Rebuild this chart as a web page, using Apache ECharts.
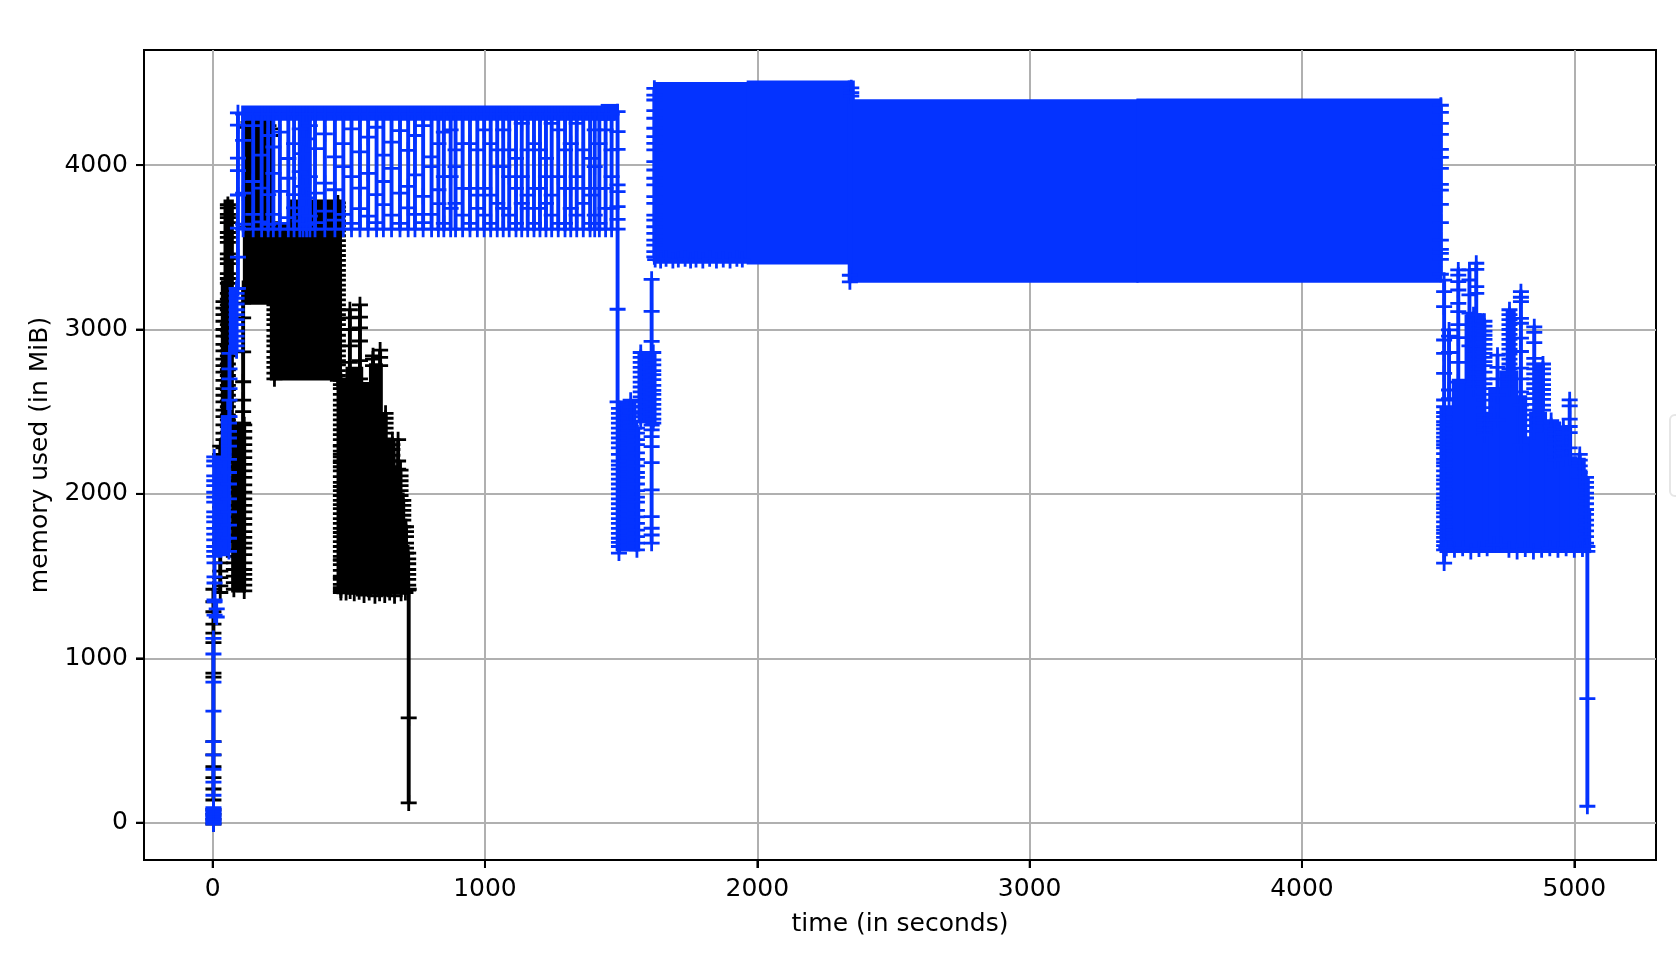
<!DOCTYPE html>
<html>
<head>
<meta charset="utf-8">
<style>html,body{margin:0;padding:0;background:#fff}#c{width:1676px;height:962px}</style>
<script src="https://cdn.jsdelivr.net/npm/echarts@6/dist/echarts.min.js"></script>
</head>
<body>
<div id="c"></div>
<script>
const xTicks = [0, 1000, 2000, 3000, 4000, 5000];
const yTicks = [0, 1000, 2000, 3000, 4000];
const xLabel = 'time (in seconds)';
const yLabel = 'memory used (in MiB)';
const xMin = -252, xMax = 5300, yMin = -227, yMax = 4700;

// solid regions where samples are too dense to separate: time span and memory span
const blackBandStart = [40, 30, 68, 111, 210, 284, 455, 488, 549, 574, 621, 638, 668, 691, 702, 710];
const blackBandEnd   = [78, 60, 122, 284, 475, 475, 492, 553, 578, 625, 642, 672, 695, 706, 714, 722];
const blackBandLow   = [2300, 2000, 1400, 3150, 2690, 3640, 1390, 1390, 1390, 1390, 1390, 1390, 1390, 1390, 1390, 1390];
const blackBandHigh  = [3790, 3300, 2430, 3650, 3650, 3790, 2693, 2774, 2680, 2795, 2490, 2330, 2145, 1960, 1800, 1640];

const blueBandStart = [6, 30, 50, 60, 105, 1425, 1620, 1961, 2332, 2350, 3392, 1480, 1549, 1560,
  4505, 4550, 4597, 4662, 4684, 4724, 4748, 4789, 4819, 4834, 4850, 4892, 4944, 4984, 5034, 5049];
const blueBandEnd = [62, 70, 72, 92, 1478, 1490, 1969, 2340, 2358, 3400, 4515, 1556, 1570, 1630,
  4558, 4605, 4670, 4692, 4732, 4795, 4785, 4827, 4842, 4900, 4887, 4952, 4992, 5042, 5057, 5062];
const blueBandLow = [1620, 2220, 2510, 2855, 4270, 4270, 3400, 3395, 3285, 3285, 3285, 1650, 1650, 2430,
  1640, 1640, 1640, 1640, 1640, 1640, 2700, 1640, 1640, 1640, 2400, 1640, 1640, 1640, 1640, 1640];
const blueBandHigh = [2230, 2470, 2570, 3250, 4362, 4372, 4505, 4515, 4515, 4400, 4405, 2565, 2400, 2865,
  2530, 2700, 3090, 2500, 2650, 2750, 3120, 2600, 2350, 2500, 2790, 2440, 2400, 2220, 2100, 1900];

// saw-tooth strokes between about 3610 and 4310 MiB
const stripeTimes = [112, 149, 180, 204, 223, 247, 278, 299, 320, 332, 345, 357, 376, 412, 449, 480, 510, 541, 571, 602,
  627, 657, 688, 718, 743, 773, 804, 829, 849, 874, 892, 918, 945, 972, 997, 1021, 1045, 1067, 1089, 1114,
  1135, 1157, 1180, 1202, 1224, 1245, 1269, 1294, 1315, 1337, 1361, 1386, 1403, 1420, 1443, 1465];
const stripeFloor = [3610, 3610, 3610, 3610, 3610, 3610, 3610, 3610, 3610, 3610, 3610, 3610, 3610, 3610, 3610, 3610, 3610, 3610, 3610, 3610,
  3610, 3610, 3610, 3610, 3610, 3610, 3610, 3610, 3610, 3610, 3610, 3610, 3610, 3610, 3610, 3610, 3610, 3610, 3610, 3610,
  3610, 3610, 3610, 3610, 3610, 3610, 3610, 3610, 3610, 3610, 3610, 3610, 3610, 3610, 3610, 3610];
const stripeMidA = [3640, 3700, 3655, 3640, 3700, 3645, 3680, 3740, 3660, 3700, 3640, 3690, 3650, 3720, 3665, 3700, 3645, 3735, 3690, 3650,
  3760, 3695, 3645, 3740, 3700, 3650, 3700, 3765, 3645, 3737, 3767, 3696, 3645, 3737, 3696, 3645, 3767, 3737, 3696, 3645,
  3767, 3737, 3645, 3737, 3767, 3696, 3645, 3645, 3737, 3696, 3767, 3645, 3696, 3645, 3737, 3737];
const stripeMidB = [3830, 3900, 3860, 3820, 3950, 3840, 3920, 3820, 3960, 3870, 3800, 3930, 3830, 3890, 3850, 3990, 3930, 3860, 3950, 3820,
  3900, 3980, 3830, 3870, 3940, 3810, 3990, 3850, 3930, 3930, 3990, 3858, 3858, 3817, 3858, 3817, 3990, 3990, 3930, 3858,
  3930, 3817, 3858, 3858, 3930, 3817, 3930, 3858, 3858, 3930, 3858, 3817, 3990, 3858, 3858, 3930];
const stripeMidC = [4150, 4240, 4060, 4180, 4110, 4200, 4040, 4130, 4220, 4070, 4160, 4240, 4100, 4190, 4050, 4130, 4220, 4080, 4170, 4230,
  4060, 4140, 4210, 4090, 4180, 4240, 4050, 4130, 4200, 4214, 4092, 4131, 4131, 4092, 4214, 4131, 4092, 4214, 4092, 4041,
  4254, 4092, 4131, 4092, 4041, 4254, 4214, 4092, 4131, 4254, 4092, 4041, 4214, 4131, 4214, 4092];
const stripeCeil = [4310, 4310, 4310, 4310, 4310, 4310, 4310, 4310, 4310, 4310, 4310, 4310, 4310, 4310, 4310, 4310, 4310, 4310, 4310, 4310,
  4310, 4310, 4310, 4310, 4310, 4310, 4310, 4310, 4310, 4310, 4310, 4310, 4310, 4310, 4310, 4310, 4310, 4310, 4310, 4310,
  4310, 4310, 4310, 4310, 4310, 4310, 4310, 4310, 4310, 4310, 4310, 4310, 4310, 4310, 4310, 4310];

// vertical strokes of the black run: time, then the samples along the stroke
const blackColumnTimes = [3, 3, 28, 56, 40, 78, 116, 112, 125, 132, 140, 158, 165, 172, 190, 199, 205, 215, 222, 227, 460, 471, 471, 504, 541, 589, 615,
  635, 660, 681, 690, 700, 710, 718, 720];
const blackColumnSamples = [
  [138, 205, 274, 341, 412, 493, 885, 910, 1095, 1153, 1208, 1283, 1344, 1420],
  [-8, 20, 50, 80],
  [1400, 1440, 1490, 1530, 1580, 1640, 1700, 1760, 1800, 1860, 1920, 1980, 2050, 2110, 2180, 2240, 2290],
  [2300, 2335, 2375, 2410, 2450, 2480, 2530, 2565, 2600, 2635, 2660, 2720, 2755, 2790, 2840, 2870, 2900, 2960, 2995, 3030, 3090, 3120, 3150, 3185, 3220, 3280, 3310, 3340, 3400, 3430, 3460, 3530, 3560, 3590, 3650, 3680, 3700, 3740, 3760],
  [2000, 2050, 2100, 2150, 2190, 2240, 2280, 2330, 2370, 2420, 2470, 2510, 2560, 2600, 2640, 2690, 2740, 2780, 2820, 2870, 2910, 2960, 3000, 3050, 3090, 3130, 3170],
  [1420, 1460, 1500, 1540, 1580, 1620, 1660, 1710, 1750, 1790, 1820, 1860, 1900, 1930, 1970, 2010, 2040, 2080, 2130, 2165, 2200, 2240, 2280, 2320, 2370, 2400, 2430],
  [1410, 1445, 1480, 1510, 1540, 1580, 1630, 1670, 1700, 1735, 1770, 1815, 1850, 1890, 1930, 1970, 2010, 2055, 2100, 2140, 2180, 2220, 2260, 2300, 2340, 2380, 2420],
  [2430, 2500, 2570, 2682, 2864, 3070, 3160, 3250],
  [3620, 4230], [3620, 4260], [3640, 4250], [3620, 4255], [3650, 4260], [3620, 4230], [3640, 4255], [3640, 4265], [3620, 4240], [3650, 4220], [3620, 4180],
  [2700, 2735, 2770, 2800, 2830, 2865, 2900, 2930, 2960, 2995, 3030, 3060, 3090, 3120, 3150, 3180],
  [2690, 2720, 2750, 2785, 2810, 2840, 2870, 2900, 2930, 2965, 3000, 3030, 3060, 3090, 3120, 3150, 3180, 3210, 3240, 3270, 3300, 3330, 3360, 3390, 3420, 3450, 3480, 3510, 3540, 3570, 3600, 3630, 3660, 3690, 3720, 3745, 3770],
  [1400, 1430, 1450, 1480, 1500, 1535, 1570, 1595, 1620, 1650, 1680, 1710, 1740, 1765, 1790, 1820, 1850, 1880, 1910, 1935, 1960, 1990, 2020, 2045, 2070, 2105, 2140, 2165, 2190, 2225, 2260, 2295, 2330, 2360, 2390, 2420, 2450, 2480, 2510, 2540, 2570, 2605, 2640, 2665, 2690],
  [1415, 1490, 1600, 2200, 2240, 2290],
  [2700, 2800, 2900, 3000, 3070, 3120],
  [2700, 2810, 2930, 3010, 3075, 3150],
  [2780, 2820, 2840],
  [2780, 2830, 2875],
  [2490, 2460, 2430, 2400, 2370, 2335, 2300, 2270],
  [2330, 2300, 2270, 2235, 2200, 2165, 2130],
  [2150, 2200, 2330],
  [2145, 2110, 2080, 2050, 2020, 1990, 1960],
  [1960, 1930, 1900, 1870, 1840, 1800],
  [1800, 1770, 1740, 1700, 1670, 1640],
  [1640, 1605, 1575, 1540, 1510, 1480, 1445, 1415],
  [120, 637, 1420]
];
const blackFootTimes = [490, 505, 520, 538, 556, 575, 596, 613, 632, 650, 668, 692, 708];
const blackFootValues = [1400, 1410, 1395, 1405, 1385, 1400, 1380, 1395, 1385, 1400, 1380, 1395, 1400];

// vertical strokes of the blue run
const blueColumnTimes = [3, 3, 15, 7, 6, 60, 62, 88, 93, 1487, 1492, 1622, 1612, 1535, 1558, 1572, 1618, 2345, 2340, 4510, 4522, 4540, 4574, 4615, 4630, 4640, 4670, 4718, 4762, 4804, 4853, 4885, 4915, 4930, 4960, 4983, 5020, 5043, 5048];
const blueColumnSamples = [
  [167, 247, 325, 412, 493, 679, 855, 1026, 1121],
  [-8, 2, 12, 22, 32, 42, 52, 62, 72, 82, 92],
  [1251, 1300],
  [1263, 1343, 1355, 1458, 1495, 1580],
  [1620, 1650, 1680, 1720, 1755, 1790, 1830, 1860, 1890, 1950, 1980, 2010, 2050, 2080, 2110, 2170, 2200, 2225],
  [1650, 1730, 1810, 1890, 1970, 2060, 2130, 2210, 2290, 2340, 2380, 2430, 2470],
  [2470, 2570, 2640, 2700, 2760, 2855],
  [2870, 2900, 2930, 2960, 2990, 3030, 3060, 3090, 3120, 3155, 3190, 3220, 3250],
  [3250, 3440, 3617, 3818, 3966, 4042, 4243, 4318],
  [4325, 4203, 4096, 3879, 3838, 3747, 3670, 3610, 3123, 2560],
  [2520, 2490, 2460, 2430, 2400, 2370, 2340, 2310, 2280, 2240, 2200, 2175, 2150, 2120, 2090, 2060, 2030, 2000, 1970, 1940, 1910, 1880, 1850, 1820, 1790, 1760, 1730, 1705, 1680, 1640],
  [3442, 3473, 3513, 3544, 3584, 3625, 3665, 3696, 3767, 3808, 3879, 3920, 3970, 4021, 4092, 4132, 4173, 4224, 4285, 4331, 4396, 4426, 4467],
  [1700, 1750, 1791, 1862, 2024, 2190, 2287, 2348, 2389, 2419, 2928, 3110, 3305],
  [2570, 2530, 2490, 2440, 2410],
  [2400, 2370, 2330, 2300, 2250, 2210, 2170, 2130, 2100, 2060, 2020, 1980, 1950, 1900, 1860, 1820, 1780, 1740, 1700, 1660],
  [2860, 2830, 2800, 2770, 2740, 2710, 2680, 2650, 2620, 2590, 2560, 2530, 2500, 2470, 2440],
  [2860, 2815, 2785, 2750, 2725, 2695, 2660, 2630, 2605, 2575, 2545, 2515, 2485, 2455, 2430],
  [4470, 4440, 4420],
  [3290, 3330],
  [4364, 4321, 4254, 4187, 4096, 4047, 3980, 3883, 3848, 3761, 3650, 3544, 3487, 3463, 3427, 3336],
  [3300, 3230, 3139, 2936, 2855, 2733, 2571, 2530, 2495, 2470, 2440, 2420, 2395, 2370, 2345, 2320, 2300, 2280, 2245, 2210, 2190, 2170, 2140, 2110, 2085, 2060, 2030, 2000, 1975, 1950, 1930, 1910, 1885, 1860, 1830, 1800, 1780, 1760, 1735, 1710, 1685, 1660, 1579],
  [2997, 2960, 2860, 2632, 2580],
  [3362, 3331, 3291, 3240, 3159, 3109, 3030, 2950, 2800, 2680],
  [3362, 3301, 3210, 3100, 2900],
  [3090, 3060, 3030, 3000, 2970, 2940, 2910, 2880, 2850, 2820, 2790, 2760, 2730, 2700, 2670, 2640],
  [3403, 3366, 3261, 3220, 3090],
  [3050, 3020, 2990, 2965, 2940, 2910, 2880, 2855, 2830, 2805, 2780, 2740, 2700, 2670, 2640, 2605, 2570, 2525, 2480, 2450, 2420, 2390, 2360],
  [2844, 2770, 2700, 2600, 2450],
  [3120, 3090, 3060, 3030, 3000, 2970, 2940, 2910, 2880, 2850, 2820, 2790, 2760, 2730, 2700, 2670, 2640],
  [3230, 3196, 3170, 3068, 3038, 2947, 2866, 2765, 2700, 2620, 2540, 2300],
  [3016, 2982, 2920, 2824, 2790, 2760, 2730, 2700, 2670, 2640, 2610, 2580, 2545, 2510, 2480, 2450, 2415, 2380],
  [2790, 2760, 2730, 2695, 2665, 2635, 2605, 2575, 2540, 2510],
  [2446, 2415, 2385],
  [2395, 2365, 2335, 2305, 2270, 2240, 2205],
  [2408, 2375, 2345, 2310, 2280, 2250, 2215],
  [2572, 2535, 2455, 2410, 2373, 2280, 2220],
  [2240, 2205, 2170, 2130, 2100],
  [2100, 2070, 2040, 2005, 1975, 1940, 1905, 1875, 1840, 1810, 1775, 1740, 1700],
  [100, 755, 1650, 1680]
];
const blueFootTimes = [1625, 1645, 1665, 1690, 1710, 1735, 1755, 1775, 1800, 1825, 1850, 1875, 1900, 1925, 1945,
  4530, 4560, 4590, 4620, 4650, 4680, 4705, 4730, 4760, 4790, 4820, 4850, 4880, 4910, 4940, 4970, 5000, 5030];
const blueFootValues = [3425, 3420, 3430, 3420, 3425, 3430, 3420, 3425, 3420, 3430, 3420, 3425, 3420, 3430, 3425,
  1670, 1660, 1670, 1650, 1665, 1670, 1690, 1690, 1660, 1650, 1665, 1650, 1660, 1670, 1660, 1670, 1660, 1665];

const plusPath = 'path://M6.6,0H9.4V6.6H16V9.4H9.4V16H6.6V9.4H0V6.6H6.6Z';
const FONT = 'DejaVu Sans';

function strokes(times, samples, footT, footV) {
  const pts = [];
  times.forEach((t, i) => { samples[i].forEach(v => pts.push([t, v])); pts.push([t, null]); });
  footT.forEach((t, i) => { pts.push([t, footV[i]]); pts.push([t, null]); });
  return pts;
}
function stripes() {
  const pts = [];
  stripeTimes.forEach((t, i) => {
    [stripeFloor[i], stripeMidA[i], stripeMidB[i], stripeMidC[i], stripeCeil[i]].forEach(v => pts.push([t, v]));
    pts.push([t, null]);
  });
  return pts;
}
function bandSeries(name, color, starts, ends, lows, highs, z) {
  return {
    type: 'custom', name, z, silent: true, clip: true, animation: false,
    data: starts.map((s, i) => [s, ends[i], lows[i], highs[i]]),
    encode: { x: [0, 1], y: [2, 3] },
    renderItem(params, api) {
      const a = api.coord([api.value(0), api.value(3)]);
      const b = api.coord([api.value(1), api.value(2)]);
      return { type: 'rect', shape: { x: a[0], y: a[1], width: b[0] - a[0], height: b[1] - a[1] }, style: { fill: color } };
    }
  };
}
function lineSeries(name, color, data, z) {
  return {
    type: 'line', name, z, data, animation: false, showAllSymbol: true, silent: true,
    connectNulls: false, symbol: plusPath, symbolSize: 16,
    lineStyle: { color, width: 3.9, cap: 'butt' }, itemStyle: { color }
  };
}
// outward tick marks hung on the frame, placed through the axes
function tickSeries(data, size, offset) {
  return {
    type: 'scatter', data, clip: false, silent: true, animation: false, z: 8,
    symbol: 'rect', symbolSize: size, symbolOffset: offset,
    itemStyle: { color: '#000' }
  };
}
const BLUE = '#0433ff', BLACK = '#000000';
const axisBase = {
  type: 'value', nameLocation: 'middle',
  nameTextStyle: { fontFamily: FONT, fontSize: 25, color: '#000' },
  axisLine: { show: true, onZero: false, lineStyle: { color: '#000', width: 2 } },
  axisTick: { show: true, inside: false, length: 8, lineStyle: { color: '#000', width: 2 } },
  splitLine: { show: true, lineStyle: { color: '#b0b0b0', width: 2 } }
};
const labelBase = { formatter: v => String(v), fontFamily: FONT, fontSize: 25, color: '#000', margin: 16 };
const chart = echarts.init(document.getElementById('c'), null, { renderer: 'canvas' });
chart.setOption({
  backgroundColor: '#fff',
  animation: false,
  grid: { left: 144, right: 20, top: 50, bottom: 102, show: true, borderColor: '#000', borderWidth: 2, backgroundColor: 'transparent' },
  xAxis: Object.assign({}, axisBase, {
    min: xMin, max: xMax, name: xLabel, nameGap: 52,
    axisTick: Object.assign({}, axisBase.axisTick, { customValues: xTicks }),
    axisLabel: Object.assign({}, labelBase, { customValues: xTicks, margin: 17 })
  }),
  yAxis: Object.assign({}, axisBase, {
    min: yMin, max: yMax, name: yLabel, nameGap: 91,
    axisTick: Object.assign({}, axisBase.axisTick, { customValues: yTicks }),
    axisLabel: Object.assign({}, labelBase, { customValues: yTicks, padding: [6, 0, 0, 0] })
  }),
  series: [
    bandSeries('black bands', BLACK, blackBandStart, blackBandEnd, blackBandLow, blackBandHigh, 2),
    lineSeries('black', BLACK, strokes(blackColumnTimes, blackColumnSamples, blackFootTimes, blackFootValues), 3),
    bandSeries('blue bands', BLUE, blueBandStart, blueBandEnd, blueBandLow, blueBandHigh, 4),
    lineSeries('blue', BLUE, stripes().concat(strokes(blueColumnTimes, blueColumnSamples, blueFootTimes, blueFootValues)), 5),
    tickSeries(xTicks.map(t => [t, yMin]), [2, 8], [0, 4]),
    tickSeries(yTicks.map(v => [xMin, v]), [8, 2], [-4, 0])
  ],
  graphic: [{
    type: 'rect', silent: true, z: 10,
    shape: { x: 1670, y: 415, width: 40, height: 81, r: 5 },
    style: { fill: '#fff', stroke: '#e6e6e6', lineWidth: 2 }
  }]
});
</script>
</body>
</html>
